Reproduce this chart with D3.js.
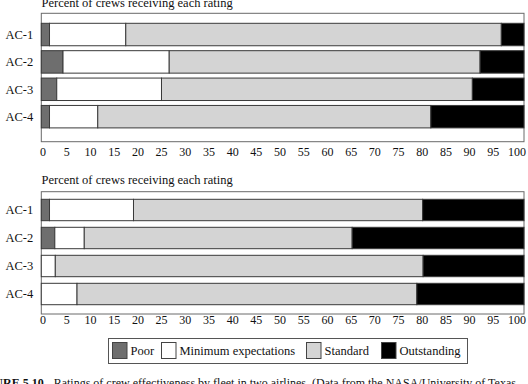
<!DOCTYPE html>
<html>
<head>
<meta charset="utf-8">
<script src="https://cdnjs.cloudflare.com/ajax/libs/d3/7.8.5/d3.min.js"></script>
<style>
  body { margin: 0; background: #fff; }
  svg { display: block; }
  svg text { font-family: "Liberation Serif", "DejaVu Serif", serif; }
</style>
</head>
<body>
<div id="chart"></div>
<script>
// fleets and rating categories
var fleets = ["AC-1", "AC-2", "AC-3", "AC-4"];
var ratings = ["Poor", "Minimum expectations", "Standard", "Outstanding"];
var ticks = [0, 5, 10, 15, 20, 25, 30, 35, 40, 45, 50, 55, 60, 65, 70, 75, 80, 85, 90, 95, 100];

// percent of crews per rating, airline 1 (top panel), one array per rating
var topPoor = [1.7, 4.5, 3.2, 1.7];
var topMinimum = [15.8, 22.0, 21.7, 10.0];
var topStandard = [77.8, 64.4, 64.4, 69.0];
var topOutstanding = [4.7, 9.1, 10.7, 19.3];

// airline 2 (bottom panel)
var botPoor = [1.7, 2.8, 0, 0];
var botMinimum = [17.4, 6.1, 2.9, 7.4];
var botStandard = [59.9, 55.5, 76.2, 70.4];
var botOutstanding = [21.0, 35.6, 20.9, 22.2];

var titleText = "Percent of crews receiving each rating";
var captionText = "Ratings of crew effectiveness by fleet in two airlines. (Data from the NASA/University of Texas";

var colors = d3.scaleOrdinal()
    .domain(ratings)
    .range(["#6e6e6e", "#ffffff", "#d4d4d4", "#000000"]);

var svg = d3.select("#chart").append("svg")
    .attr("width", 528)
    .attr("height", 384);

// bar scale spans the frame, labels sit on a slightly narrower scale as in the print
var x = d3.scaleLinear().domain([0, 100]).range([41.3, 524]);
var xLabel = d3.scaleLinear().domain([0, 100]).range([42.6, 516.5]);

function buildRows(poor, minimum, standard, outstanding) {
    return fleets.map(function (f, i) {
        var row = { fleet: f };
        row[ratings[0]] = poor[i];
        row[ratings[1]] = minimum[i];
        row[ratings[2]] = standard[i];
        row[ratings[3]] = outstanding[i];
        return row;
    });
}

function drawPanel(rows, opts) {
    var g = svg.append("g");

    var y = d3.scaleBand()
        .domain(fleets)
        .range(opts.bars)
        .paddingInner(opts.pad)
        .paddingOuter(0);

    // title
    g.append("text")
        .attr("x", 41.5)
        .attr("y", opts.titleY)
        .attr("font-size", 12.5)
        .attr("fill", "#111")
        .text(titleText);

    // frame
    g.append("rect")
        .attr("x", x(0))
        .attr("y", opts.frame[0])
        .attr("width", x(100) - x(0))
        .attr("height", opts.frame[1] - opts.frame[0])
        .attr("fill", "none")
        .attr("stroke", "#6a6a6a")
        .attr("stroke-width", 1);

    var series = d3.stack().keys(ratings)(rows);

    g.selectAll(".series")
        .data(series)
        .enter().append("g")
        .attr("fill", function (d) { return colors(d.key); })
        .selectAll("rect")
        .data(function (d) { return d.filter(function (p) { return p[1] - p[0] > 0; }); })
        .enter().append("rect")
        .attr("x", function (d) { return x(d[0]); })
        .attr("width", function (d) { return x(d[1]) - x(d[0]); })
        .attr("y", function (d) { return y(d.data.fleet); })
        .attr("height", y.bandwidth())
        .attr("stroke", "#3a3a3a")
        .attr("stroke-width", 1);

    // category labels
    g.selectAll(".cat")
        .data(fleets)
        .enter().append("text")
        .attr("x", 5.5)
        .attr("y", function (d) { return y(d) + y.bandwidth() / 2; })
        .attr("dy", "0.35em")
        .attr("font-size", 12.5)
        .attr("fill", "#111")
        .text(function (d) { return d; });

    // x axis labels
    var axis = g.append("g")
        .attr("transform", "translate(0," + opts.frame[1] + ")")
        .call(d3.axisBottom(xLabel).tickValues(ticks).tickSize(0).tickPadding(opts.tickPad));
    axis.attr("font-family", null);
    axis.select(".domain").remove();
    axis.selectAll("text")
        .style("font-family", "'Liberation Serif', serif")
        .attr("font-size", 12)
        .attr("fill", "#111");
}

drawPanel(buildRows(topPoor, topMinimum, topStandard, topOutstanding), {
    titleY: 7,
    frame: [13.3, 141.7],
    bars: [23.3, 127.9],
    pad: 0.18,
    tickPad: 6
});

drawPanel(buildRows(botPoor, botMinimum, botStandard, botOutstanding), {
    titleY: 184,
    frame: [191.7, 314],
    bars: [199.3, 304.7],
    pad: 0.236,
    tickPad: 1
});

// legend
var legend = svg.append("g");
legend.append("rect")
    .attr("x", 108.5).attr("y", 338.5)
    .attr("width", 359).attr("height", 25)
    .attr("fill", "#fff").attr("stroke", "#555").attr("stroke-width", 1);

var legendX = [112.5, 161.5, 306.5, 381.5];
var items = legend.selectAll(".item")
    .data(ratings)
    .enter().append("g")
    .attr("transform", function (d, i) { return "translate(" + legendX[i] + ",342.5)"; });
items.append("rect")
    .attr("width", 14.5).attr("height", 16)
    .attr("fill", function (d) { return colors(d); })
    .attr("stroke", "#444").attr("stroke-width", 1);
items.append("text")
    .attr("x", 18)
    .attr("y", 8)
    .attr("dy", "0.35em")
    .attr("font-size", 12.5)
    .attr("fill", "#111")
    .text(function (d) { return d; });

// figure caption, cut off by the bottom edge as in the reference
var cap = svg.append("text")
    .attr("x", -27)
    .attr("y", 387)
    .attr("font-size", 12)
    .attr("fill", "#111");
cap.append("tspan").attr("font-weight", "bold").text("FIGURE 5.10");
cap.append("tspan").attr("dx", 10).text(captionText);
</script>
</body>
</html>
